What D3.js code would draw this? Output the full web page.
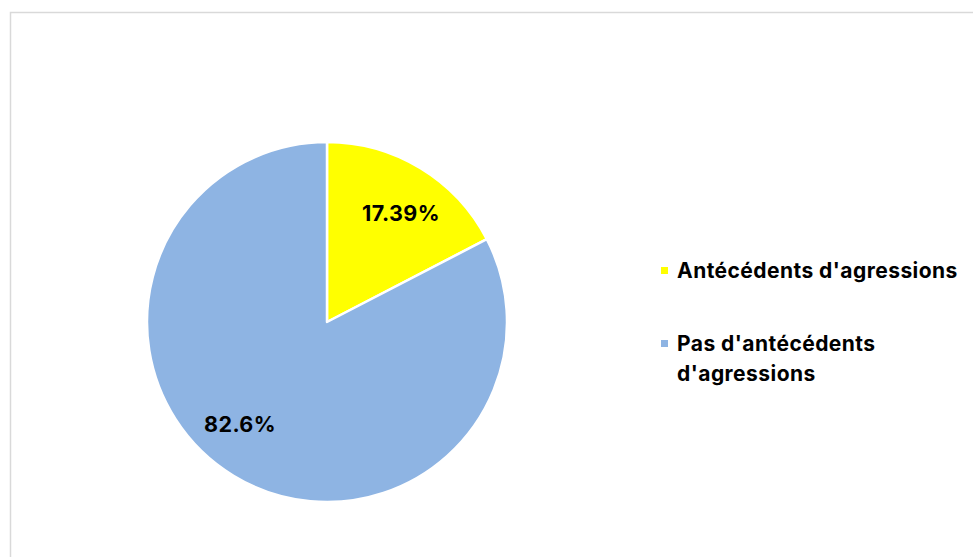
<!DOCTYPE html>
<html>
<head>
<meta charset="utf-8">
<script src="https://cdn.jsdelivr.net/npm/d3@7"></script>
<style>
  html, body { margin: 0; padding: 0; background: #fff; }
  svg { display: block; }
</style>
</head>
<body>
<svg id="chart" width="973" height="557"></svg>
<script>
const categories = ["Antécédents d'agressions", "Pas d'antécédents d'agressions"];
const values = [17.39, 82.6];
const valueLabels = ["17.39%", "82.6%"];
const legendLines = [["Antécédents d'agressions"], ["Pas d'antécédents", "d'agressions"]];
const colors = ["#FFFF00", "#8EB4E3"];

const svg = d3.select("#chart");
const W = 973, H = 557;
const font = "Inter, 'Liberation Sans', Arial, sans-serif";

// chart border
svg.append("rect")
  .attr("x", 10.5).attr("y", 12.5)
  .attr("width", W + 10).attr("height", H + 10)
  .attr("fill", "#fff")
  .attr("stroke", "#d9d9d9").attr("stroke-width", 1.5);

const cx = 327, cy = 322, r = 180;
const data = categories.map((c, i) => ({ cat: c, value: values[i], label: valueLabels[i], color: colors[i] }));

const pie = d3.pie().value(d => d.value).sort(null).startAngle(0).endAngle(2 * Math.PI);
const arcs = pie(data);
const arc = d3.arc().innerRadius(0).outerRadius(r);

const g = svg.append("g").attr("transform", `translate(${cx},${cy})`);
g.selectAll("path.slice")
  .data(arcs)
  .join("path")
  .attr("class", "slice")
  .attr("d", arc)
  .attr("fill", d => d.data.color)
  .attr("stroke", "#fff")
  .attr("stroke-width", 2.5)
  .attr("stroke-linejoin", "round");

const labelPos = [[401 - cx, 213 - cy], [240 - cx, 424 - cy]];

g.selectAll("text.pct")
  .data(arcs)
  .join("text")
  .attr("class", "pct")
  .attr("x", (d, i) => labelPos[i][0])
  .attr("y", (d, i) => labelPos[i][1])
  .attr("text-anchor", "middle")
  .attr("dominant-baseline", "central")
  .attr("font-family", font)
  .attr("font-weight", "bold")
  .attr("font-size", 21.5)
  .attr("letter-spacing", 0.4)
  .attr("fill", "#000")
  .text(d => d.data.label);

// legend
const legendY = [278, 351];
const leg = svg.append("g");
data.forEach((d, i) => {
  leg.append("rect")
    .attr("x", 661).attr("y", legendY[i] - 11)
    .attr("width", 7).attr("height", 7)
    .attr("fill", d.color);
  const t = leg.append("text")
    .attr("x", 677).attr("y", legendY[i])
    .attr("font-family", font)
    .attr("font-weight", "bold")
    .attr("font-size", 21)
    .attr("letter-spacing", 0.45)
    .attr("fill", "#000");
  legendLines[i].forEach((line, j) => {
    t.append("tspan").attr("x", 677).attr("dy", j === 0 ? 0 : 29.5).text(line);
  });
});
</script>
</body>
</html>
